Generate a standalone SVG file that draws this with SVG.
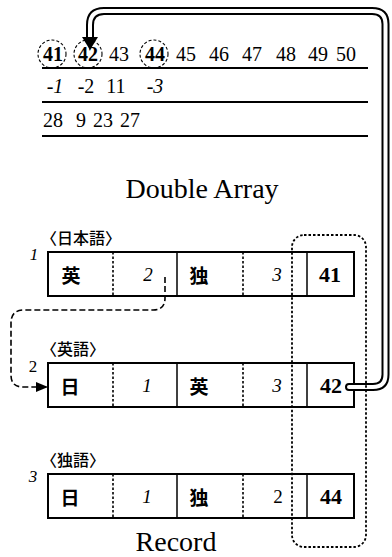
<svg xmlns="http://www.w3.org/2000/svg" width="392" height="557" viewBox="0 0 392 557">
<style>
.num{font-family:'Liberation Serif','Times New Roman',serif;font-size:20px;fill:#000;text-anchor:middle}
.b{font-weight:bold}
.i{font-style:italic}
.cj{font-family:'Noto Sans CJK JP',sans-serif;font-weight:bold;font-size:19px;text-anchor:middle;fill:#000}
.lbl{font-family:'Noto Sans CJK JP',sans-serif;font-weight:500;font-size:16px;fill:#000}
.cell{font-family:'Liberation Serif','Times New Roman',serif;font-size:19px;text-anchor:middle;fill:#000}
.big{font-family:'Liberation Serif','Times New Roman',serif;font-size:28px;text-anchor:middle;fill:#000}
.rule{stroke:#000;stroke-width:2}
.circ{fill:none;stroke:#000;stroke-width:1.1;stroke-dasharray:3 2}
.box{fill:#fff;stroke:#000;stroke-width:2}
.sep{stroke:#000;stroke-width:1.5}
.dot{stroke:#000;stroke-width:1.6;stroke-dasharray:2.5 2}
</style>
<defs>
<marker id="ah" viewBox="0 0 12 10" refX="12" refY="5" markerWidth="12" markerHeight="10" markerUnits="userSpaceOnUse" orient="auto">
<path d="M0,0 L12,5 L0,10 z" fill="#000"/>
</marker>
</defs>

<g id="double-array">
<circle class="circ" cx="52" cy="54" r="14"/>
<circle class="circ" cx="88" cy="54" r="14"/>
<circle class="circ" cx="154" cy="54" r="14"/>
<text class="num b" x="53" y="61">41</text>
<text class="num b" x="88" y="61">42</text>
<text class="num" x="119" y="61">43</text>
<text class="num b" x="155" y="61">44</text>
<text class="num" x="186" y="61">45</text>
<text class="num" x="219" y="61">46</text>
<text class="num" x="252" y="61">47</text>
<text class="num" x="286" y="61">48</text>
<text class="num" x="318" y="61">49</text>
<text class="num" x="346" y="61">50</text>
<line class="rule" x1="42" y1="68" x2="368" y2="68"/>
<text class="num i" x="55" y="93">-1</text>
<text class="num" x="86" y="93">-2</text>
<text class="num" x="116" y="93">11</text>
<text class="num i" x="155" y="93">-3</text>
<line class="rule" x1="42" y1="102" x2="368" y2="102"/>
<text class="num" x="53" y="127">28</text>
<text class="num" x="81" y="127">9</text>
<text class="num" x="103" y="127">23</text>
<text class="num" x="130" y="127">27</text>
<line class="rule" x1="42" y1="136" x2="368" y2="136"/>
<text class="big" x="202" y="198">Double Array</text>
</g>

<g id="record-1">
<text class="lbl" x="41" y="244">〈日本語〉</text>
<text class="cell i" x="34" y="260" style="font-size:17px">1</text>
<rect class="box" x="48" y="252" width="306" height="44"/>
<line class="dot" x1="113" y1="252" x2="113" y2="296"/>
<line class="sep" x1="177" y1="252" x2="177" y2="296"/>
<line class="dot" x1="243" y1="252" x2="243" y2="296"/>
<line class="sep" x1="307" y1="252" x2="307" y2="296"/>
<text class="cj" x="71" y="283">英</text>
<text class="cell i" x="148" y="281">2</text>
<text class="cj" x="199" y="283">独</text>
<text class="cell i" x="277" y="281">3</text>
<text class="cell b" x="330" y="282" style="font-size:22px">41</text>
</g>

<g id="record-2">
<text class="lbl" x="41" y="355">〈英語〉</text>
<text class="cell" x="33" y="372" style="font-size:17px">2</text>
<rect class="box" x="48" y="363" width="306" height="44"/>
<line class="dot" x1="113" y1="363" x2="113" y2="407"/>
<line class="sep" x1="177" y1="363" x2="177" y2="407"/>
<line class="dot" x1="243" y1="363" x2="243" y2="407"/>
<line class="sep" x1="307" y1="363" x2="307" y2="407"/>
<text class="cj" x="70" y="394">日</text>
<text class="cell i" x="147" y="392">1</text>
<text class="cj" x="199" y="394">英</text>
<text class="cell i" x="277" y="392">3</text>
<text class="cell b" x="331" y="393" style="font-size:22px">42</text>
</g>

<g id="record-3">
<text class="lbl" x="41" y="466">〈独語〉</text>
<text class="cell i" x="33" y="482" style="font-size:17px">3</text>
<rect class="box" x="48" y="474" width="306" height="44"/>
<line class="dot" x1="113" y1="474" x2="113" y2="518"/>
<line class="sep" x1="177" y1="474" x2="177" y2="518"/>
<line class="dot" x1="243" y1="474" x2="243" y2="518"/>
<line class="sep" x1="307" y1="474" x2="307" y2="518"/>
<text class="cj" x="70" y="505">日</text>
<text class="cell i" x="147" y="503">1</text>
<text class="cj" x="199" y="505">独</text>
<text class="cell" x="278" y="503">2</text>
<text class="cell b" x="331" y="504" style="font-size:22px">44</text>
<text class="big" x="176" y="551">Record</text>
</g>

<g id="connectors">
<path d="M165,277 V298 Q165,310 153,310 H24 Q11,310 11,323 V375 Q11,387 23,387 H48" fill="none" stroke="#000" stroke-width="1.6" stroke-dasharray="6 3" marker-end="url(#ah)"/>
<path d="M349,387 H373 Q385.5,387 385.5,374.5 V24 Q385.5,11 372,11 H104 Q90,11 90,25 V40" fill="none" stroke="#000" stroke-width="8" stroke-linecap="round" stroke-linejoin="round"/>
<path d="M349,387 H373 Q385.5,387 385.5,374.5 V24 Q385.5,11 372,11 H104 Q90,11 90,25 V38" fill="none" stroke="#fff" stroke-width="4" stroke-linecap="round" stroke-linejoin="round"/>
<polygon points="82,37 98,37 90,50" fill="#000"/>
<rect x="292" y="235" width="74" height="312" rx="12" ry="12" fill="none" stroke="#000" stroke-width="1.8" stroke-dasharray="2.5 2"/>
</g>
</svg>
